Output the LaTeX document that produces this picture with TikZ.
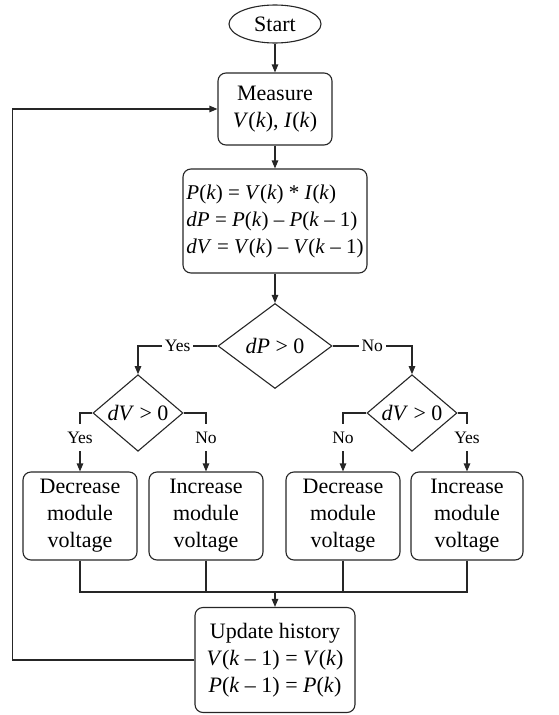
\documentclass[tikz,border=0pt]{standalone}
\usepackage{fontspec}
\setmainfont{Liberation Serif}
\usetikzlibrary{shapes.geometric,arrows.meta}
\tikzset{
  base/.style={draw=black!85, line width=1.1pt, inner sep=0pt, font=\fontsize{22}{27}\selectfont, align=center},
  proc/.style={base, rectangle, rounded corners=8pt},
  term/.style={base, ellipse},
  decision/.style={base, diamond},
  lbl/.style={fill=white, inner xsep=3pt, inner ysep=0pt, font=\fontsize{17.5}{20}\selectfont},
  vlbl/.style={fill=white, inner xsep=2pt, minimum height=27pt, font=\fontsize{17.5}{20}\selectfont},
  conn/.style={draw=black!85, line width=1.1pt},
  arr/.style={conn, -{Triangle[length=8pt,width=6.5pt]}}
}
\newcommand{\iv}[1]{\textit{#1}}
\begin{document}
\begin{tikzpicture}[x=1pt,y=-1pt]
\useasboundingbox (0,0) rectangle (558,715);
\node[term, minimum width=92pt, minimum height=38pt] (start) at (275,24) {Start};
\node[proc, minimum width=114pt, minimum height=72pt] (meas) at (275,109) {Measure\\\iv{V}(\iv{k}), \iv{I}(\iv{k})};
\node[proc, minimum width=184pt, minimum height=104pt, align=left, font=\fontsize{21}{27}\selectfont] (calc) at (275,221)
  {\iv{P}(\iv{k}) = \iv{V}(\iv{k}) * \iv{I}(\iv{k})\\
   \iv{dP} = \iv{P}(\iv{k}) – \iv{P}(\iv{k} – 1)\\
   \iv{dV} = \iv{V}(\iv{k}) – \iv{V}(\iv{k} – 1)};
\node[decision, minimum width=114pt, minimum height=85pt] (d1) at (275,346) {\iv{dP} > 0};
\node[decision, minimum width=90pt, minimum height=69pt] (dl) at (138,413) {\iv{dV} > 0};
\node[decision, minimum width=90pt, minimum height=69pt] (dr) at (412,413) {\iv{dV} > 0};
\node[proc, minimum width=114pt, minimum height=88pt] (b1) at (80,516) {Decrease\\module\\voltage};
\node[proc, minimum width=114pt, minimum height=88pt] (b2) at (206,516) {Increase\\module\\voltage};
\node[proc, minimum width=114pt, minimum height=88pt] (b3) at (343,516) {Decrease\\module\\voltage};
\node[proc, minimum width=112pt, minimum height=88pt] (b4) at (467,516) {Increase\\module\\voltage};
\node[proc, minimum width=160pt, minimum height=105pt] (upd) at (275,660)
  {Update history\\\iv{V}(\iv{k} – 1) = \iv{V}(\iv{k})\\\iv{P}(\iv{k} – 1) = \iv{P}(\iv{k})};
\coordinate (merge) at (275,592);

\draw[arr] (start) -- (meas);
\draw[arr] (meas) -- (calc);
\draw[arr] (calc) -- (d1);
\draw[arr] (d1.west) -- node[lbl]{Yes} (dl.north |- d1.west) -- (dl.north);
\draw[arr] (d1.east) -- node[lbl]{No} (dr.north |- d1.east) -- (dr.north);
\draw[arr] (dl.west) -- (b1.north |- dl.west) -- node[vlbl, pos=0.42]{Yes} (b1.north);
\draw[arr] (dl.east) -- (b2.north |- dl.east) -- node[vlbl, pos=0.42]{No} (b2.north);
\draw[arr] (dr.west) -- (b3.north |- dr.west) -- node[vlbl, pos=0.42]{No} (b3.north);
\draw[arr] (dr.east) -- (b4.north |- dr.east) -- node[vlbl, pos=0.42]{Yes} (b4.north);
\draw[conn] (b1.south) |- (merge);
\draw[conn] (b4.south) |- (merge);
\draw[conn] (b2.south) -- (b2.south |- merge);
\draw[conn] (b3.south) -- (b3.south |- merge);
\draw[arr] (merge) -- (upd.north);
\draw[arr] (upd.west) -- ++(-182,0) |- (meas.west);
\end{tikzpicture}
\end{document}
